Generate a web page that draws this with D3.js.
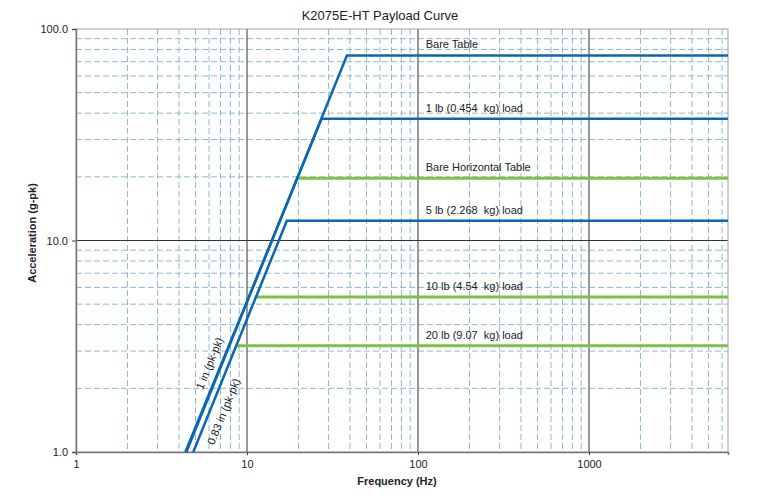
<!DOCTYPE html>
<html>
<head>
<meta charset="utf-8">
<script src="https://cdn.jsdelivr.net/npm/d3@7"></script>
<style>
  body { margin: 0; background: #fff; }
  svg { font-family: "Liberation Sans", Arial, sans-serif; }
  text { white-space: pre; }
</style>
</head>
<body>
<div id="chart"></div>
<script>
// payload curves, values: [frequency Hz, acceleration g-pk]
const bareTable = [[4.42, 1], [38.4, 75], [6500, 75]];
const oneLbLoad = [[4.36, 1], [27.3, 37.6], [6500, 37.6]];
const bareHorizontal = [[19.6, 19.7], [6500, 19.7]];
const fiveLbLoad = [[4.85, 1], [17.1, 12.4], [6500, 12.4]];
const tenLbLoad = [[11.1, 5.4], [6500, 5.4]];
const twentyLbLoad = [[8.6, 3.18], [6500, 3.18]];

const SERIES = [
    {name: 'Bare Table', points: bareTable, color: 'blue'},
    {name: '1 lb (0.454  kg) load', points: oneLbLoad, color: 'blue'},
    {name: 'Bare Horizontal Table', points: bareHorizontal, color: 'green'},
    {name: '5 lb (2.268  kg) load', points: fiveLbLoad, color: 'blue'},
    {name: '10 lb (4.54  kg) load', points: tenLbLoad, color: 'green'},
    {name: '20 lb (9.07  kg) load', points: twentyLbLoad, color: 'green'}
];

// displacement limit labels, anchored on their lines
const strokeLabels = [
    {text: '1 in (pk-pk)', at: [7.0, 2.5], side: -1},
    {text: '0.83 in (pk-pk)', at: [6.2, 1.64], side: 1}
];

const xTickValues = [1, 10, 100, 1000];
const yTickValues = [1, 10, 100];
const xDomain = [1, 6500];
const yDomain = [1, 100];

const COLORS = {blue: '#0b67b2', green: '#7dc242'};

let margin = {top: 29, right: 32, bottom: 48, left: 76};
let width = 760 - margin.left - margin.right;
let height = 500 - margin.top - margin.bottom;

let x = d3.scaleLog().domain(xDomain).range([0, width]);
let y = d3.scaleLog().domain(yDomain).range([height, 0]);

let svg = d3.select('#chart').append('svg')
    .attr('width', 760)
    .attr('height', 500);

let g = svg.append('g')
    .attr('transform', 'translate(' + margin.left + ',' + margin.top + ')');

let isMajor = v => Math.abs(Math.log10(v) - Math.round(Math.log10(v))) < 1e-9;

// minor grid (dashed)
g.append('g').selectAll('line')
    .data(x.ticks().filter(v => !isMajor(v)))
    .join('line')
    .attr('x1', d => x(d)).attr('x2', d => x(d))
    .attr('y1', 0).attr('y2', height)
    .attr('stroke', '#8fb9d3').attr('stroke-dasharray', '6,3');

g.append('g').selectAll('line')
    .data(y.ticks().filter(v => !isMajor(v)))
    .join('line')
    .attr('y1', d => y(d)).attr('y2', d => y(d))
    .attr('x1', 0).attr('x2', width)
    .attr('stroke', '#8fb9d3').attr('stroke-dasharray', '6,3');

// major grid (solid)
g.append('g').selectAll('line')
    .data(xTickValues.slice(1))
    .join('line')
    .attr('x1', d => x(d)).attr('x2', d => x(d))
    .attr('y1', 0).attr('y2', height)
    .attr('stroke', '#333');

g.append('g').selectAll('line')
    .data(yTickValues.slice(1, -1))
    .join('line')
    .attr('y1', d => y(d)).attr('y2', d => y(d))
    .attr('x1', 0).attr('x2', width)
    .attr('stroke', '#333');

// frame
g.append('rect')
    .attr('width', width).attr('height', height)
    .attr('fill', 'none').attr('stroke', '#a0a0a0');

// axes
let xAxis = g.append('g')
    .attr('transform', 'translate(0,' + height + ')')
    .call(d3.axisBottom(x).tickValues(xTickValues).tickFormat(d3.format('d')).tickSize(3).tickPadding(5));

let yAxis = g.append('g')
    .call(d3.axisLeft(y).tickValues(yTickValues).tickFormat(d3.format('.1f')).tickSize(4).tickPadding(4));

[xAxis, yAxis].forEach(a => {
    a.select('.domain').attr('stroke', '#777').attr('stroke-width', 1.5);
    a.selectAll('.tick line').attr('stroke', '#444');
    a.selectAll('.tick text').attr('font-size', 11).attr('fill', '#222')
        .attr('font-family', '"Liberation Sans", Arial, sans-serif');
});

// curves
let line = d3.line()
    .x(d => x(d[0]))
    .y(d => y(d[1]));

g.append('g').selectAll('path')
    .data(SERIES.filter(s => s.color === 'green'))
    .join('path')
    .attr('d', d => line(d.points))
    .attr('fill', 'none')
    .attr('stroke', COLORS.green)
    .attr('stroke-width', 3);

g.append('g').selectAll('path')
    .data(SERIES.filter(s => s.color === 'blue'))
    .join('path')
    .attr('d', d => line(d.points))
    .attr('fill', 'none')
    .attr('stroke', COLORS.blue)
    .attr('stroke-width', 2.5)
    .attr('stroke-linejoin', 'miter');

// series labels
g.append('g').selectAll('text')
    .data(SERIES)
    .join('text')
    .attr('x', x(111))
    .attr('y', d => y(d.points[d.points.length - 1][1]) - 7)
    .attr('font-size', 11)
    .attr('fill', '#222')
    .text(d => d.name);

// labels along the displacement lines
let angle = Math.atan2(y(1) - y(100), x(10) - x(1)) * 180 / Math.PI;

g.append('g').selectAll('text')
    .data(strokeLabels)
    .join('text')
    .attr('transform', d => 'translate(' + x(d.at[0]) + ',' + y(d.at[1]) + ') rotate(' + (-angle) + ')')
    .attr('text-anchor', 'middle')
    .attr('dy', d => d.side < 0 ? -8 : 17)
    .attr('font-size', 11)
    .attr('fill', '#222')
    .text(d => d.text);

// title & axis titles
svg.append('text')
    .attr('x', 380).attr('y', 20)
    .attr('text-anchor', 'middle')
    .attr('font-size', 13)
    .attr('fill', '#222')
    .text('K2075E-HT Payload Curve');

svg.append('text')
    .attr('x', 397).attr('y', 485)
    .attr('text-anchor', 'middle')
    .attr('font-size', 11)
    .attr('font-weight', 'bold')
    .attr('fill', '#222')
    .text('Frequency (Hz)');

svg.append('text')
    .attr('transform', 'translate(36,233) rotate(-90)')
    .attr('text-anchor', 'middle')
    .attr('font-size', 11)
    .attr('font-weight', 'bold')
    .attr('fill', '#222')
    .text('Acceleration (g-pk)');
</script>
</body>
</html>
